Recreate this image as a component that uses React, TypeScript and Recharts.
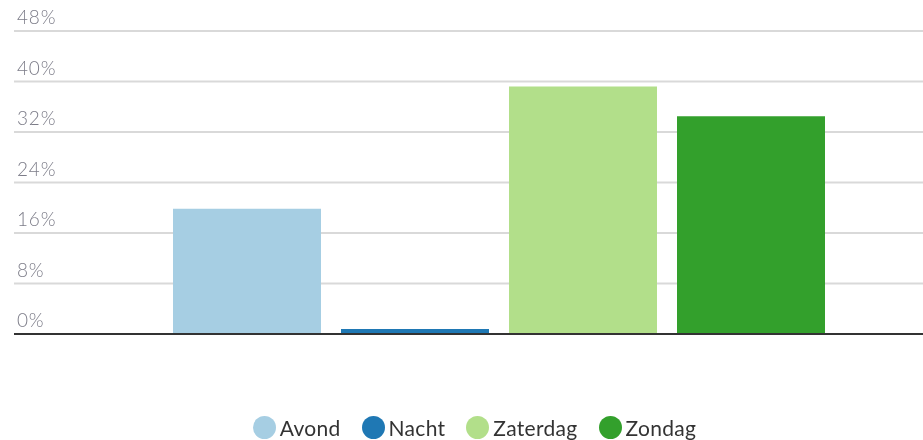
import {
  BarChart,
  Bar,
  XAxis,
  YAxis,
  CartesianGrid,
  Legend,
  ReferenceLine,
} from 'recharts';

const seriesNames = ['Avond', 'Nacht', 'Zaterdag', 'Zondag'];
const seriesValues = [19.85, 0.8, 39.2, 34.5];
const seriesColors = ['#a6cee3', '#1f78b4', '#b2df8a', '#33a02c'];
const yTicks = [0, 8, 16, 24, 32, 40, 48];

const row: Record<string, number | string> = { name: '' };
seriesNames.forEach((n, i) => {
  row[n] = seriesValues[i];
});
const chartData = [row];

const FONT = 'Lato, "Open Sans", sans-serif';

function renderYTick(props: any) {
  const { y, payload } = props;
  return (
    <text
      key={payload.value}
      x={17}
      y={y - 7}
      textAnchor="start"
      fill="#7c7c88"
      fontSize={19}
      letterSpacing={0.8}
      fontFamily={FONT}
      fontWeight={300}
    >
      {payload.value}%
    </text>
  );
}

function LegendContent() {
  return (
    <div
      style={{
        display: 'flex',
        justifyContent: 'center',
        alignItems: 'center',
        height: 30,
        paddingLeft: 26,
        boxSizing: 'border-box',
        fontFamily: FONT,
        fontSize: 21,
        letterSpacing: 0.3,
        color: '#333',
      }}
    >
      {seriesNames.map((n, i) => (
        <div
          key={n}
          style={{
            display: 'flex',
            alignItems: 'center',
            marginRight: i < seriesNames.length - 1 ? 21 : 0,
          }}
        >
          <span
            style={{
              width: 23,
              height: 23,
              borderRadius: '50%',
              background: seriesColors[i],
              marginRight: 4,
              display: 'inline-block',
            }}
          />
          <span>{n}</span>
        </div>
      ))}
    </div>
  );
}

export default function App() {
  return (
    <div style={{ position: 'fixed', top: 0, left: 0, width: 923, height: 440 }}>
      <BarChart
        width={923}
        height={440}
        data={chartData}
        margin={{ top: 31, right: 0, left: 14, bottom: 76 }}
        barCategoryGap={0}
        barGap={20}
      >
        <CartesianGrid vertical={false} stroke="#d9d9d9" strokeWidth={2} />
        <XAxis dataKey="name" hide padding={{ left: 159, right: 97 }} />
        <YAxis
          domain={[0, 48]}
          ticks={yTicks}
          width={60}
          mirror
          axisLine={false}
          tickLine={false}
          tick={renderYTick}
        />
        {seriesNames.map((n, i) => (
          <Bar key={n} dataKey={n} fill={seriesColors[i]} isAnimationActive={false} />
        ))}
        <ReferenceLine y={0} stroke="#333" strokeWidth={2} />
        <Legend
          verticalAlign="bottom"
          content={<LegendContent />}
          wrapperStyle={{ top: 412, left: 0, width: 923, height: 30 }}
        />
      </BarChart>
    </div>
  );
}
